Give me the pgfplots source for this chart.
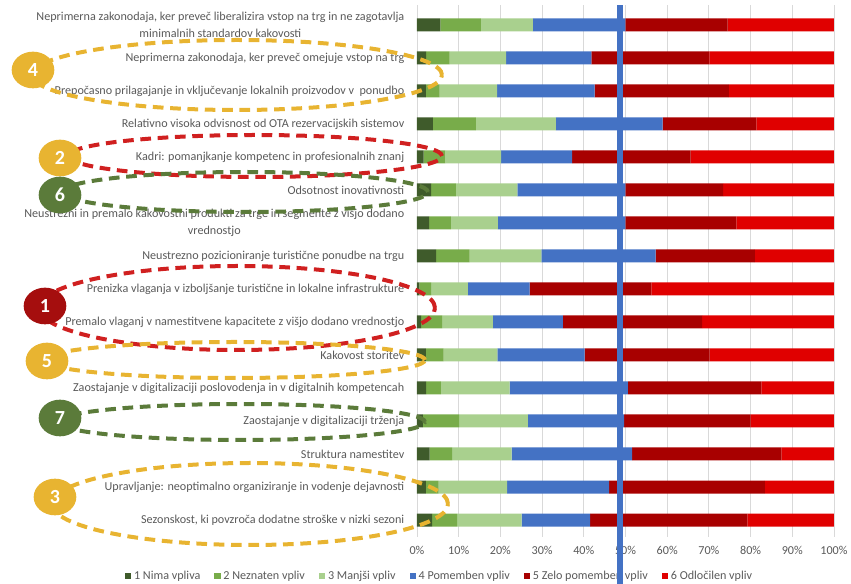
\documentclass[border=0pt]{standalone}
\usepackage{pgfplots}
\pgfplotsset{compat=1.18}
\usepackage{fontspec}
\setmainfont{Carlito}
\definecolor{c1}{HTML}{3F5B2B}
\definecolor{c2}{HTML}{78AC4A}
\definecolor{c3}{HTML}{A9D08E}
\definecolor{c4}{HTML}{4472C4}
\definecolor{c5}{HTML}{A80000}
\definecolor{c6}{HTML}{E00000}
\definecolor{tgray}{HTML}{595959}
\definecolor{yel}{HTML}{E8B431}
\definecolor{red2}{HTML}{D02020}
\definecolor{grn}{HTML}{5B7B3A}
\definecolor{dred}{HTML}{A50E0E}
\pgfplotsset{sqleg/.style={legend image code/.code={\fill[##1] (0pt,-2.4pt) rectangle (4.8pt,2.4pt);}}}
\begin{document}
\begin{tikzpicture}[x=0.75pt,y=-0.75pt]
\begin{axis}[
  at={(312.75pt,-402.375pt)}, anchor=south west,
  scale only axis, width=312.75pt, height=398.5pt,
  xbar stacked, bar width=9.75pt,
  xmin=0, xmax=100, ymin=0.4, ymax=16.5, y dir=reverse,
  clip=false,
  axis line style={draw=none},
  major tick length=0pt,
  xtick={0,10,...,100},
  xticklabel={\pgfmathprintnumber{\tick}\%},
  xmajorgrids, grid style={draw=black!15, line width=0.6pt},
  ytick={1,...,16},
  yticklabels={
    {Neprimerna zakonodaja, ker preveč liberalizira vstop na trg in ne zagotavlja\\minimalnih standardov kakovosti},
    {Neprimerna zakonodaja, ker preveč omejuje vstop na trg},
    {Prepočasno prilagajanje in vključevanje lokalnih proizvodov v\ \ ponudbo},
    {Relativno visoka odvisnost od OTA rezervacijskih sistemov},
    {Kadri: pomanjkanje kompetenc in profesionalnih znanj},
    {Odsotnost inovativnosti},
    {Neustrezni in premalo kakovostni produkti za trge in segmente z višjo dodano\\vrednostjo},
    {Neustrezno pozicioniranje turistične ponudbe na trgu},
    {Prenizka vlaganja v izboljšanje turistične in lokalne infrastrukture},
    {Premalo vlaganj v namestitvene kapacitete z višjo dodano vrednostjo},
    {Kakovost storitev},
    {Zaostajanje v digitalizaciji poslovodenja in v digitalnih kompetencah},
    {Zaostajanje v digitalizaciji trženja},
    {Struktura namestitev},
    {Upravljanje: neoptimalno organiziranje in vodenje dejavnosti},
    {Sezonskost, ki povzroča dodatne stroške v nizki sezoni}},
  yticklabel style={align=center, font=\fontsize{9.1}{12.4}\selectfont, text=tgray, xshift=-6pt},
  xticklabel style={font=\fontsize{9.1}{10}\selectfont, text=tgray, yshift=-4pt},
  /pgf/number format/assume math mode=true,
  legend style={at={(0.055,-0.074)}, anchor=center, draw=none, fill=none,
    legend columns=6, font=\fontsize{9.1}{10}\selectfont, text=tgray,
    /tikz/every even column/.append style={column sep=8.5pt},
    legend cell align=left},
]
\addplot[fill=c1, draw=none, sqleg] coordinates {(5.6,1) (2.2,2) (2.1,3) (3.8,4) (1.6,5) (3.4,6) (2.9,7) (4.6,8) (0.6,9) (1.0,10) (2.1,11) (2.2,12) (1.4,13) (3.0,14) (2.1,15) (3.6,16)};
\addplot[fill=c2, draw=none, sqleg] coordinates {(9.7,1) (5.6,2) (3.3,3) (10.3,4) (5.2,5) (5.9,6) (5.2,7) (8.0,8) (2.8,9) (5.0,10) (4.3,11) (3.5,12) (8.7,13) (5.4,14) (3.1,15) (6.0,16)};
\addplot[fill=c3, draw=none, sqleg] coordinates {(12.5,1) (13.6,2) (13.8,3) (19.2,4) (13.4,5) (14.8,6) (11.3,7) (17.2,8) (8.8,9) (12.2,10) (12.9,11) (16.5,12) (16.5,13) (14.3,14) (16.4,15) (15.5,16)};
\addplot[fill=c4, draw=none, sqleg] coordinates {(22.2,1) (20.4,2) (23.4,3) (25.6,4) (17.0,5) (25.9,6) (30.6,7) (27.4,8) (14.8,9) (16.8,10) (20.9,11) (28.4,12) (23.1,13) (28.9,14) (24.5,15) (16.4,16)};
\addplot[fill=c5, draw=none, sqleg] coordinates {(24.5,1) (28.3,2) (32.2,3) (22.5,4) (28.4,5) (23.4,6) (26.6,7) (23.8,8) (29.2,9) (33.4,10) (30.0,11) (32.0,12) (30.3,13) (35.8,14) (37.3,15) (37.7,16)};
\addplot[fill=c6, draw=none, sqleg] coordinates {(25.5,1) (29.9,2) (25.2,3) (18.6,4) (34.4,5) (26.6,6) (23.4,7) (19.0,8) (43.8,9) (31.6,10) (29.8,11) (17.4,12) (20.0,13) (12.6,14) (16.6,15) (20.8,16)};
\legend{1 Nima vpliva, 2 Neznaten vpliv, 3 Manjši vpliv, 4 Pomemben vpliv, 5 Zelo pomemben vpliv, 6 Odločilen vpliv}
\coordinate (btop) at (axis cs:48.7,0.4);
\coordinate (bbot) at (axis cs:48.7,18.2);
\end{axis}
\draw[c4, line width=5pt] (btop) -- (bbot);
% annotations
\tikzset{dsh/.style={line width=3pt, dash pattern=on 8pt off 5pt}}
\draw[dsh, yel] (237,75) ellipse [x radius=153.75pt, y radius=26.25pt];
\draw[dsh, red2] (255,156) ellipse [x radius=140.25pt, y radius=15.75pt];
\draw[dsh, grn] (245,192) ellipse [x radius=137.25pt, y radius=15pt];
\draw[dsh, red2] (237,308) ellipse [x radius=148.5pt, y radius=31.5pt];
\draw[dsh, yel] (234,360) ellipse [x radius=143.25pt, y radius=13.5pt];
\draw[dsh, grn] (241,422) ellipse [x radius=138pt, y radius=13.5pt];
\draw[dsh, yel] (250,504) ellipse [x radius=148.5pt, y radius=30.75pt];
\foreach \cx/\cy/\col/\n in {33/70/yel/4, 60/158/yel/2, 60/195/grn/6, 45/306/dred/1, 47/361/yel/5, 60/418/grn/7, 55/497/yel/3}{
  \fill[\col] (\cx,\cy) ellipse [x radius=16pt, y radius=13.75pt];
  \node[text=white, font=\fontsize{15}{15}\selectfont\bfseries] at (\cx,\cy) {\n};
}
\pgfresetboundingbox
\useasboundingbox (0,0) rectangle (851,584);
\end{tikzpicture}
\end{document}
